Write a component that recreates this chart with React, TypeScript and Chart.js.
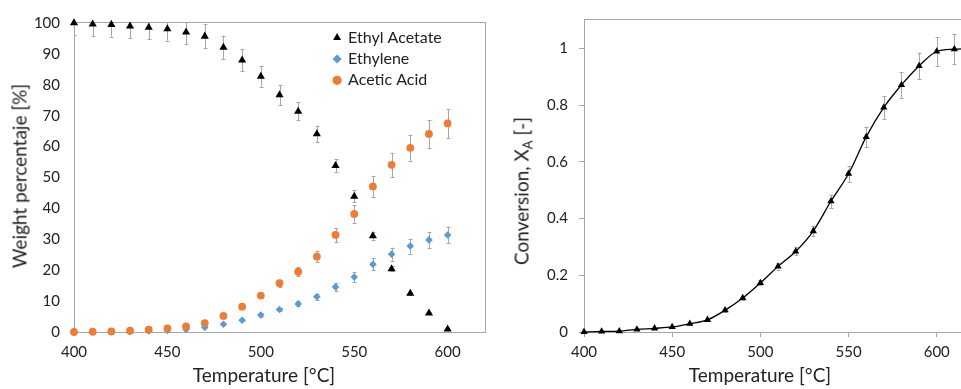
import React, { useEffect, useRef } from 'react';
import { Chart, registerables } from 'chart.js';

Chart.register(...registerables);

// ---------- data ----------
const temps = [400, 410, 420, 430, 440, 450, 460, 470, 480, 490, 500, 510, 520, 530, 540, 550, 560, 570, 580, 590, 600];
const ethylAcetate = [100, 99.6, 99.5, 99.0, 98.6, 98.1, 97.0, 95.7, 92.1, 88.0, 82.7, 76.7, 71.4, 64.1, 53.8, 43.9, 31.1, 20.4, 12.5, 6.1, 0.9];
const ethylAcetateErr = [3.8, 3.9, 3.9, 3.9, 3.9, 3.8, 3.8, 3.9, 3.8, 3.6, 3.3, 3.2, 2.9, 2.7, 2.1, 1.9, 1.3, 0.8, 0.5, 0.3, 0.1];
const ethylene = [0, 0, 0.05, 0.2, 0.3, 0.5, 0.8, 1.5, 2.5, 3.8, 5.5, 7.3, 9.1, 11.4, 14.6, 17.8, 21.9, 25.2, 27.8, 29.8, 31.4];
const ethyleneErr = [0, 0, 0, 0, 0, 0.05, 0.1, 0.15, 0.2, 0.3, 0.5, 0.6, 0.8, 1.0, 1.3, 1.7, 1.9, 2.1, 2.4, 2.6, 2.7];
const aceticAcid = [0, 0.1, 0.2, 0.4, 0.8, 1.2, 1.8, 2.9, 5.2, 8.2, 11.8, 15.8, 19.5, 24.4, 31.4, 38.2, 47.1, 54.1, 59.6, 64.1, 67.5];
const aceticAcidErr = [0, 0, 0, 0, 0.1, 0.1, 0.1, 0.2, 0.4, 0.6, 0.8, 1.1, 1.5, 1.9, 2.3, 2.8, 3.4, 3.9, 4.2, 4.5, 4.7];

const convTemps = [400, 410, 420, 430, 440, 450, 460, 470, 480, 490, 500, 510, 520, 530, 540, 550, 560, 570, 580, 590, 600, 610, 620];
const conversion = [0, 0.002, 0.003, 0.009, 0.013, 0.018, 0.029, 0.043, 0.077, 0.120, 0.173, 0.231, 0.284, 0.356, 0.461, 0.558, 0.688, 0.792, 0.871, 0.938, 0.989, 0.997, 1.0];
const conversionErr = [0.001, 0.001, 0.001, 0.002, 0.002, 0.003, 0.003, 0.004, 0.005, 0.006, 0.009, 0.011, 0.014, 0.019, 0.023, 0.029, 0.036, 0.040, 0.045, 0.047, 0.050, 0.052, 0.052];

const seriesLabels = ['Ethyl Acetate', 'Ethylene', 'Acetic Acid'];
const xTitle = 'Temperature [°C]';
const yTitleLeft = 'Weight percentaje [%]';

// ---------- style ----------
const FONT = 'Lato, "Open Sans", "DejaVu Sans", sans-serif';
const AXIS = '#a6a6a6';
const TEXT = '#222222';
const BLACK = '#000000';
const BLUE = '#5B9BD5';
const ORANGE = '#ED7D31';

Chart.defaults.font.family = FONT;
Chart.defaults.color = TEXT;

const pts = (xs: number[], ys: number[]) => xs.map((x, i) => ({ x, y: ys[i] }));

const errorBarsPlugin = {
  id: 'errorBars',
  beforeDatasetsDraw(chart: any, _args: any, opts: any) {
    const errs: number[][] = (opts && opts.errors) || [];
    const { ctx, chartArea: a } = chart;
    const xs = chart.scales.x;
    const ys = chart.scales.y;
    ctx.save();
    ctx.beginPath();
    ctx.rect(a.left, a.top, a.right - a.left, a.bottom - a.top);
    ctx.clip();
    ctx.strokeStyle = opts.color || AXIS;
    ctx.lineWidth = 1;
    const cap = opts.cap || 2;
    chart.data.datasets.forEach((ds: any, i: number) => {
      const e = errs[i];
      if (!e) return;
      ds.data.forEach((p: any, j: number) => {
        const err = e[j];
        if (!err) return;
        const px = Math.round(xs.getPixelForValue(p.x)) + 0.5;
        const y1 = ys.getPixelForValue(p.y - err);
        const y2 = ys.getPixelForValue(p.y + err);
        ctx.beginPath();
        ctx.moveTo(px, y1);
        ctx.lineTo(px, y2);
        ctx.moveTo(px - cap, Math.round(y1) + 0.5);
        ctx.lineTo(px + cap, Math.round(y1) + 0.5);
        ctx.moveTo(px - cap, Math.round(y2) + 0.5);
        ctx.lineTo(px + cap, Math.round(y2) + 0.5);
        ctx.stroke();
      });
    });
    ctx.restore();
  },
};

const framePlugin = {
  id: 'frame',
  beforeDatasetsDraw(chart: any, _args: any, opts: any) {
    const { ctx, chartArea: a } = chart;
    ctx.save();
    ctx.strokeStyle = opts.color || AXIS;
    ctx.lineWidth = 1;
    ctx.beginPath();
    if (opts.top) {
      const y = Math.round(a.top) - 0.5;
      ctx.moveTo(a.left, y);
      ctx.lineTo(opts.right ? a.right : chart.width, y);
    }
    if (opts.right) {
      const x = Math.round(a.right) + 0.5;
      ctx.moveTo(x, a.top - 1);
      ctx.lineTo(x, a.bottom);
    }
    ctx.stroke();
    ctx.restore();
  },
};

const legendPlacePlugin = {
  id: 'legendPlace',
  afterLayout(chart: any, _args: any, opts: any) {
    const lg = chart.legend;
    if (!lg || opts.x === undefined) return;
    const w = lg.width;
    const h = lg.height;
    lg.left = opts.x;
    lg.top = opts.y;
    lg.right = opts.x + w;
    lg.bottom = opts.y + h;
  },
};

export default function App() {
  const leftRef = useRef<HTMLCanvasElement>(null);
  const rightRef = useRef<HTMLCanvasElement>(null);

  useEffect(() => {
    const tickFont = { size: 15, family: FONT };

    const left = new Chart(leftRef.current as HTMLCanvasElement, {
      type: 'scatter',
      data: {
        datasets: [
          {
            label: seriesLabels[0],
            data: pts(temps, ethylAcetate),
            pointStyle: 'triangle',
            pointRadius: 4.7,
            pointBorderWidth: 0,
            backgroundColor: BLACK,
            borderColor: BLACK,
            order: 0,
            clip: false,
          },
          {
            label: seriesLabels[1],
            data: pts(temps, ethylene),
            pointStyle: 'rectRot',
            pointRadius: 3.8,
            pointBorderWidth: 0,
            backgroundColor: BLUE,
            borderColor: BLUE,
            order: 2,
            clip: false,
          },
          {
            label: seriesLabels[2],
            data: pts(temps, aceticAcid),
            pointStyle: 'circle',
            pointRadius: 3.9,
            pointBorderWidth: 0,
            backgroundColor: ORANGE,
            borderColor: ORANGE,
            order: 1,
            clip: false,
          },
        ],
      } as any,
      options: {
        responsive: false,
        animation: false,
        events: [],
        layout: { padding: { top: 19, right: 5, left: 0, bottom: 0 } },
        scales: {
          x: {
            type: 'linear',
            min: 400,
            max: 620,
            afterFit: (s: any) => { s.height = 57; },
            ticks: { stepSize: 50, includeBounds: false, padding: 11, color: TEXT, font: tickFont, maxRotation: 0 },
            grid: { display: false, drawTicks: false },
            border: { display: true, color: AXIS, width: 1 },
          },
          y: {
            type: 'linear',
            min: 0,
            max: 100,
            afterFit: (s: any) => { s.width = 74; },
            ticks: { stepSize: 10, includeBounds: false, padding: 14, color: TEXT, font: tickFont },
            grid: { display: false, drawTicks: false },
            border: { display: true, color: AXIS, width: 1 },
          },
        },
        plugins: {
          legend: {
            display: true,
            position: 'chartArea',
            align: 'start',
            labels: {
              usePointStyle: true,
              boxWidth: 6,
              boxHeight: 6.5,
              padding: 5.3,
              color: TEXT,
              font: { size: 16, family: FONT },
              sort: (a: any, b: any) => a.datasetIndex - b.datasetIndex,
            },
          },
          tooltip: { enabled: false },
          errorBars: { errors: [ethylAcetateErr, ethyleneErr, aceticAcidErr], color: AXIS, cap: 2 },
          frame: { top: true, right: true, color: AXIS },
          legendPlace: { x: 328.8, y: 24.4 },
        },
      } as any,
      plugins: [errorBarsPlugin, framePlugin, legendPlacePlugin],
    });

    const right = new Chart(rightRef.current as HTMLCanvasElement, {
      type: 'scatter',
      data: {
        datasets: [
          {
            label: 'Conversion',
            data: pts(convTemps, conversion),
            showLine: true,
            borderColor: BLACK,
            borderWidth: 1.3,
            cubicInterpolationMode: 'monotone',
            pointStyle: 'triangle',
            pointRadius: 4.2,
            pointBorderWidth: 0,
            pointBackgroundColor: BLACK,
            backgroundColor: BLACK,
            clip: false,
          },
        ],
      } as any,
      options: {
        responsive: false,
        animation: false,
        events: [],
        layout: { padding: { top: 19, right: 5, left: 0, bottom: 0 } },
        scales: {
          x: {
            type: 'linear',
            min: 400,
            max: 620,
            afterFit: (s: any) => { s.height = 57; },
            ticks: { stepSize: 50, includeBounds: false, padding: 6, color: TEXT, font: tickFont, maxRotation: 0 },
            grid: { display: true, drawOnChartArea: false, drawTicks: true, tickLength: 5, color: AXIS },
            border: { display: true, color: AXIS, width: 1 },
          },
          y: {
            type: 'linear',
            min: 0,
            max: 1.1,
            afterFit: (s: any) => { s.width = 94; },
            ticks: {
              stepSize: 0.2,
              includeBounds: false,
              padding: 11,
              color: TEXT,
              font: tickFont,
              callback: (v: any) => String(Math.round(Number(v) * 10) / 10),
            },
            grid: { display: true, drawOnChartArea: false, drawTicks: true, tickLength: 5, color: AXIS },
            border: { display: true, color: AXIS, width: 1 },
          },
        },
        plugins: {
          legend: { display: false },
          tooltip: { enabled: false },
          errorBars: { errors: [conversionErr], color: AXIS, cap: 2 },
          frame: { top: true, right: false, color: AXIS },
        },
      } as any,
      plugins: [errorBarsPlugin, framePlugin],
    });

    return () => {
      left.destroy();
      right.destroy();
    };
  }, []);

  const titleBase: React.CSSProperties = {
    position: 'absolute',
    whiteSpace: 'nowrap',
    fontFamily: FONT,
    fontSize: 19,
    lineHeight: '19px',
    color: TEXT,
  };

  return (
    <div
      style={{
        position: 'fixed',
        left: 0,
        top: 0,
        width: 961,
        height: 389,
        overflow: 'hidden',
        background: '#ffffff',
      }}
    >
      <canvas ref={leftRef} width={490} height={389} style={{ position: 'absolute', left: 0, top: 0 }} />
      <canvas ref={rightRef} width={487} height={389} style={{ position: 'absolute', left: 490, top: 0 }} />
      <div style={{ ...titleBase, left: 264, top: 374.3, transform: 'translate(-50%,-50%)' }}>{xTitle}</div>
      <div style={{ ...titleBase, left: 760, top: 374.3, transform: 'translate(-50%,-50%)' }}>{xTitle}</div>
      <div style={{ ...titleBase, left: 19, top: 175.5, transform: 'translate(-50%,-50%) rotate(-90deg)' }}>{yTitleLeft}</div>
      <div style={{ ...titleBase, left: 521, top: 191, transform: 'translate(-50%,-50%) rotate(-90deg)' }}>
        Conversion, X
        <span style={{ fontSize: 13, position: 'relative', top: 4, lineHeight: 0 }}>A</span>
        {' [-]'}
      </div>
    </div>
  );
}
